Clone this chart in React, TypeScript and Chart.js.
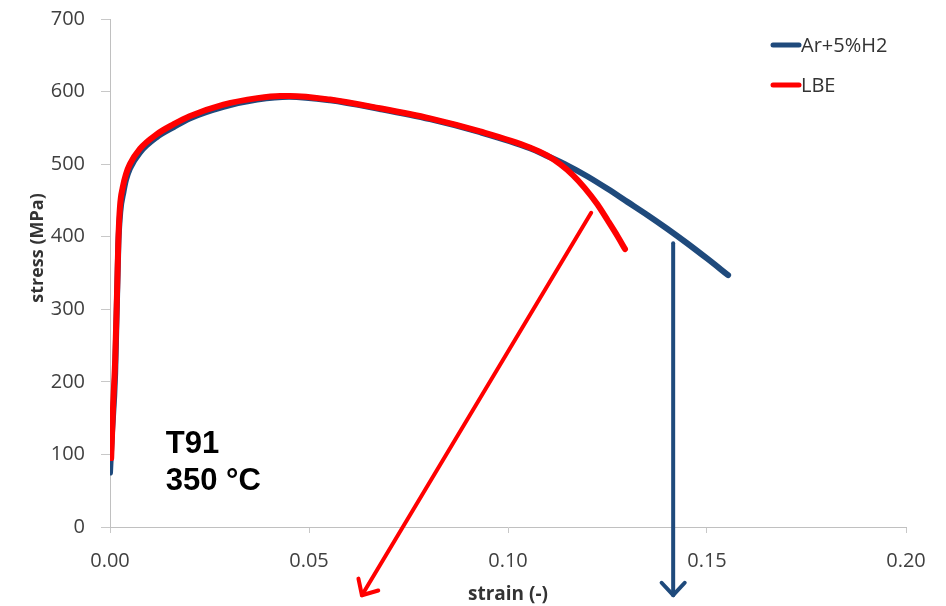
import React, { useEffect, useRef } from "react";
import { Chart, registerables } from "chart.js";

Chart.register(...registerables);

// ---- data ----
const seriesNames = ["Ar+5%H2", "LBE"];
const seriesColors = ["#1f4a7c", "#ff0000"];

const arStrain = [0.0, 0.0004, 0.0013, 0.0021, 0.0026, 0.0034, 0.004, 0.005, 0.0075, 0.0117, 0.016, 0.02, 0.0285, 0.037, 0.045, 0.0553, 0.0678, 0.0804, 0.093, 0.1055, 0.11, 0.115, 0.12, 0.125, 0.13, 0.135, 0.14, 0.145, 0.15, 0.1553];
const arStress = [75, 120, 212, 390, 435, 462, 478, 494, 516, 537, 551, 563, 579, 589, 593, 588, 576, 562, 544, 522, 511, 498, 483, 466, 448, 430, 411, 391, 370, 347];

const lbeStrain = [0.0003, 0.0008, 0.0013, 0.0018, 0.0021, 0.0025, 0.0032, 0.004, 0.005, 0.0075, 0.0117, 0.016, 0.02, 0.0285, 0.037, 0.0427, 0.0452, 0.0553, 0.0678, 0.0804, 0.093, 0.1055, 0.1098, 0.1131, 0.1163, 0.1193, 0.1224, 0.1251, 0.1276, 0.1294];
const lbeStress = [95, 170, 230, 330, 395, 441, 468, 486, 500, 521, 541, 555, 566, 582, 591, 594, 594, 589, 577, 563, 545, 523, 512, 500, 485, 467, 445, 422, 400, 383];

const xTicks = [0, 0.05, 0.1, 0.15, 0.2];
const yTicks = [0, 100, 200, 300, 400, 500, 600, 700];

// arrows: [strain, stress] start and end (end may lie below the axis)
const lbeArrowFrom = [0.1209, 433];
const lbeArrowTo = [0.0633, -94];
const arArrowFrom = [0.1415, 391];
const arArrowTo = [0.1415, -94];

const annotationLines = ["T91", "350 °C"];
const xTitle = "strain (-)";
const yTitle = "stress (MPa)";

const TICK_FONT = "'Open Sans', 'DejaVu Sans', sans-serif";

function drawArrow(ctx: CanvasRenderingContext2D, x1: number, y1: number, x2: number, y2: number, color: string) {
  const ang = Math.atan2(y2 - y1, x2 - x1);
  const head = 17;
  const spread = Math.PI / 4.2;
  ctx.save();
  ctx.strokeStyle = color;
  ctx.lineWidth = 4;
  ctx.lineCap = "round";
  ctx.lineJoin = "round";
  ctx.beginPath();
  ctx.moveTo(x1, y1);
  ctx.lineTo(x2, y2);
  ctx.stroke();
  ctx.beginPath();
  ctx.moveTo(x2 - head * Math.cos(ang - spread), y2 - head * Math.sin(ang - spread));
  ctx.lineTo(x2, y2);
  ctx.lineTo(x2 - head * Math.cos(ang + spread), y2 - head * Math.sin(ang + spread));
  ctx.stroke();
  ctx.restore();
}

const overlayPlugin = {
  id: "overlay",
  afterDraw(chart: any) {
    const { ctx, scales } = chart;
    const xs = scales.x;
    const ys = scales.y;
    const px = (v: number) => xs.getPixelForValue(v);
    const py = (v: number) => ys.getPixelForValue(v);

    // arrows
    drawArrow(ctx, px(lbeArrowFrom[0]), py(lbeArrowFrom[1]), px(lbeArrowTo[0]), py(lbeArrowTo[1]), seriesColors[1]);
    drawArrow(ctx, px(arArrowFrom[0]), py(arArrowFrom[1]), px(arArrowTo[0]), py(arArrowTo[1]), seriesColors[0]);

    ctx.save();
    // legend
    const lx = chart.chartArea.right - 133;
    const ly0 = chart.chartArea.top + 26;
    seriesNames.forEach((name, i) => {
      const y = ly0 + i * 40;
      ctx.strokeStyle = seriesColors[i];
      ctx.lineWidth = 5;
      ctx.lineCap = "round";
      ctx.beginPath();
      ctx.moveTo(lx, y);
      ctx.lineTo(lx + 26, y);
      ctx.stroke();
      ctx.fillStyle = "#333333";
      ctx.font = `20px ${TICK_FONT}`;
      ctx.textBaseline = "middle";
      ctx.textAlign = "left";
      ctx.fillText(name, lx + 28, y + 1);
    });

    // T91 / 350 °C annotation
    ctx.fillStyle = "#000000";
    ctx.font = "bold 31px 'Liberation Sans', Arial, sans-serif";
    ctx.textBaseline = "alphabetic";
    ctx.textAlign = "left";
    ctx.fillText(annotationLines[0], px(0.014), 453);
    ctx.fillText(annotationLines[1], px(0.014), 490);

    // y axis title
    ctx.translate(38, 248);
    ctx.rotate(-Math.PI / 2);
    ctx.fillStyle = "#333333";
    ctx.font = `bold 18px ${TICK_FONT}`;
    ctx.textAlign = "center";
    ctx.textBaseline = "middle";
    ctx.fillText(yTitle, 0, 0);
    ctx.restore();
  },
};

export default function App() {
  const ref = useRef<HTMLCanvasElement | null>(null);

  useEffect(() => {
    if (!ref.current) return;
    const chart = new Chart(ref.current, {
      type: "line",
      data: {
        datasets: [
          {
            label: seriesNames[0],
            data: arStrain.map((x, i) => ({ x, y: arStress[i] })),
            borderColor: seriesColors[0],
            backgroundColor: seriesColors[0],
            borderWidth: 6,
            pointRadius: 0,
            cubicInterpolationMode: "monotone",
            borderCapStyle: "round",
            borderJoinStyle: "round",
            fill: false,
            order: 1,
          },
          {
            label: seriesNames[1],
            data: lbeStrain.map((x, i) => ({ x, y: lbeStress[i] })),
            borderColor: seriesColors[1],
            backgroundColor: seriesColors[1],
            borderWidth: 6,
            pointRadius: 0,
            cubicInterpolationMode: "monotone",
            borderCapStyle: "round",
            borderJoinStyle: "round",
            fill: false,
            order: 0,
          },
        ],
      },
      options: {
        animation: false,
        responsive: false,
        maintainAspectRatio: false,
        layout: { padding: { top: 19, right: 40, left: 0, bottom: 0 } },
        plugins: {
          legend: { display: false },
          tooltip: { enabled: false },
        },
        scales: {
          x: {
            type: "linear",
            min: xTicks[0],
            max: xTicks[xTicks.length - 1],
            afterFit: (s: any) => {
              s.height = 79;
              s.paddingLeft = 0;
              s.paddingRight = 0;
            },
            afterBuildTicks: (s: any) => {
              s.ticks = xTicks.map((v) => ({ value: v }));
            },
            ticks: {
              callback: (v: any) => Number(v).toFixed(2),
              font: { family: TICK_FONT, size: 20 },
              color: "#404040",
              padding: 16,
              maxRotation: 0,
            },
            grid: {
              display: true,
              drawOnChartArea: false,
              drawTicks: true,
              tickLength: 6,
              color: "#c8c8c8",
            },
            border: { display: true, color: "#c0c0c0", width: 1 },
            title: {
              display: true,
              text: xTitle,
              font: { family: TICK_FONT, size: 19, weight: "bold" },
              color: "#333333",
              padding: { top: 0, bottom: 0 },
            },
          },
          y: {
            type: "linear",
            min: yTicks[0],
            max: yTicks[yTicks.length - 1],
            afterFit: (s: any) => {
              s.width = 110;
              s.paddingTop = 0;
              s.paddingBottom = 0;
            },
            afterBuildTicks: (s: any) => {
              s.ticks = yTicks.map((v) => ({ value: v }));
            },
            ticks: {
              font: { family: TICK_FONT, size: 20 },
              color: "#404040",
              padding: 16,
            },
            grid: {
              display: true,
              drawOnChartArea: false,
              drawTicks: true,
              tickLength: 9,
              color: "#c8c8c8",
            },
            border: { display: true, color: "#c0c0c0", width: 1 },
          },
        },
      },
      plugins: [overlayPlugin],
    });
    return () => chart.destroy();
  }, []);

  return (
    <div style={{ position: "fixed", left: 0, top: 0, width: 946, height: 606, background: "#ffffff" }}>
      <canvas ref={ref} width={946} height={606} style={{ display: "block", width: 946, height: 606 }} />
    </div>
  );
}
